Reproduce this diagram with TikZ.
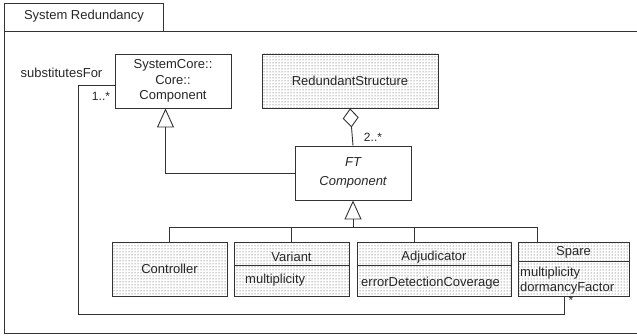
\documentclass[tikz,border=0pt]{standalone}
\usepackage{fontspec}
\setmainfont{Liberation Sans}
\usetikzlibrary{arrows.meta,patterns}
\begin{document}
\begin{tikzpicture}[x=1pt,y=-1pt,
  every node/.style={font=\fontsize{13}{15.6}\selectfont, text=black!85, inner sep=0pt},
  ln/.style={draw=black!80, line width=0.9pt},
  cls/.style={ln, rectangle, align=center, minimum height=54pt},
  dotted box/.style={cls, pattern=dots, pattern color=black!75},
  gen/.style={ln, -{Triangle[open, length=19pt, width=17pt]}},
  agg/.style={ln, {Diamond[open, length=19pt, width=16pt]}-},
  lbl/.style={font=\fontsize{12}{14}\selectfont}
]
\useasboundingbox (0,0) rectangle (637,336);
% frame
\draw[ln] (637,31) -- (4,31) -- (4,333) -- (637,333);
\draw[ln] (4,3) rectangle (163,31);
\node (title) at (84,16) {System Redundancy};

% classes
\node[cls, minimum width=116pt] (core) at (173,81) {SystemCore::\\Core::\\Component};
\node[dotted box, minimum width=176pt] (rs) at (350,81) {RedundantStructure};
\node[cls, minimum width=116pt, font=\fontsize{13}{18.5}\selectfont\itshape] (ft) at (353,173) {FT\\Component};

\node[dotted box, minimum width=115pt] (ctrl) at (169.5,269) {};
\node (ctrlt) at (169.5,269) {Controller};

\node[dotted box, minimum width=115pt] (var) at (291.5,269) {};
\draw[ln] (var.west |- 0,265) -- (var.east |- 0,265);
\node (vart) at (291.5,257) {Variant};
\node[anchor=west] (varm) at (245,280) {multiplicity};

\node[dotted box, minimum width=154pt] (adj) at (434,269) {};
\draw[ln] (adj.west |- 0,265) -- (adj.east |- 0,265);
\node (adjt) at (434,257) {Adjudicator};
\node[anchor=west] (adja) at (361,283) {errorDetectionCoverage};

\node[dotted box, minimum width=111pt] (spare) at (573.5,269) {};
\draw[ln] (spare.west |- 0,261) -- (spare.east |- 0,261);
\node (sparet) at (573.5,252) {Spare};
\node[anchor=west] (sparem) at (520,273) {multiplicity};
\node[anchor=west] (spared) at (520,288) {dormancyFactor};

% aggregation
\draw[agg] (rs.south) -- (ft.north);
\node[lbl] (m2) at (373,137) {2..*};

% generalization FT -> Core
\draw[gen] (ft.west) -| ([xshift=-7.5pt]core.south);

% generalization children -> FT
\coordinate (bus) at (353,227);
\draw[gen] (bus) -- (ft.south);
\draw[ln] (ctrl.north) |- (bus);
\draw[ln] (var.north) -- (var.north |- bus);
\draw[ln] ([xshift=-20pt]adj.north) -- ([xshift=-20pt]adj.north |- bus);
\draw[ln] ([xshift=-36.5pt]spare.north) |- (bus);

% substitutesFor
\coordinate (sub) at (78,314);
\draw[ln] ([yshift=-4pt]core.west) -| (sub) -| ([xshift=-9.5pt]spare.south);
\node (subl) at (61.5,73) {substitutesFor};
\node[lbl] (m1) at (101,96) {1..*};
\node[lbl] (m3) at (571,300) {*};
\end{tikzpicture}
\end{document}
